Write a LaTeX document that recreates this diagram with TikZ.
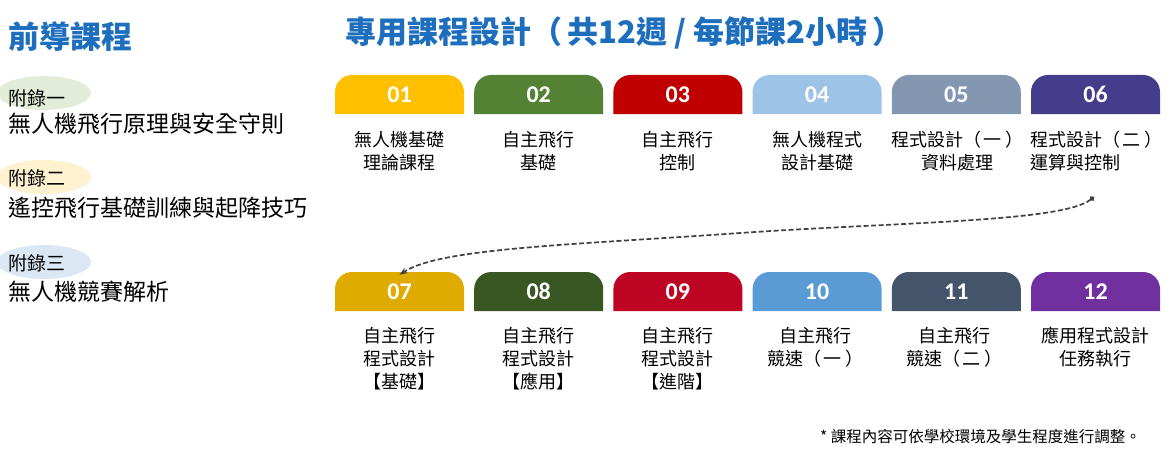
\documentclass[tikz,border=0pt]{standalone}
\usepackage{fontspec}
\newfontfamily\cjk{Noto Sans CJK TC}
\newfontfamily\numfont{Carlito}
\usetikzlibrary{arrows.meta,shapes.geometric}
\definecolor{headblue}{RGB}{30,110,190}
\definecolor{linkgray}{RGB}{64,64,64}
\definecolor{ovgreen}{RGB}{226,236,216}
\definecolor{ovyellow}{RGB}{254,242,208}
\definecolor{ovblue}{RGB}{220,231,244}
\definecolor{c01}{RGB}{255,192,0}
\definecolor{c02}{RGB}{84,130,53}
\definecolor{c03}{RGB}{192,0,0}
\definecolor{c04}{RGB}{157,195,230}
\definecolor{c05}{RGB}{132,151,176}
\definecolor{c06}{RGB}{70,60,140}
\definecolor{c07}{RGB}{223,171,0}
\definecolor{c08}{RGB}{56,87,35}
\definecolor{c09}{RGB}{190,5,35}
\definecolor{c10}{RGB}{91,155,213}
\definecolor{c11}{RGB}{68,84,106}
\definecolor{c12}{RGB}{112,48,160}
\begin{document}
\begin{tikzpicture}[x=1pt,y=-1pt]
	\tikzstyle{tab}=[minimum width=129pt, minimum height=39pt, inner sep=0pt, text=white,
		font=\numfont\bfseries\fontsize{24}{24}\selectfont,
		path picture={\fill[#1] (path picture bounding box.south west)
			-- ([yshift=-17pt]path picture bounding box.north west)
			arc[start angle=180,end angle=90,radius=17pt]
			-- ([xshift=-17pt]path picture bounding box.north east)
			arc[start angle=90,end angle=0,radius=17pt]
			-- (path picture bounding box.south east) -- cycle;}]
	\tikzstyle{lbl}=[align=center, inner sep=0pt, font=\cjk\fontsize{18}{23}\selectfont]
	\tikzstyle{oval}=[ellipse, minimum width=94pt, minimum height=34pt, inner sep=0pt]
	\tikzstyle{apx}=[anchor=west, inner sep=0pt, font=\cjk\fontsize{19}{19}\selectfont]
	\tikzstyle{apxname}=[anchor=west, inner sep=0pt, font=\cjk\fontsize{23}{23}\selectfont]
	\tikzstyle{head}=[anchor=west, inner sep=0pt, text=headblue, font=\cjk\bfseries\fontsize{31}{31}\selectfont]
	\tikzstyle{link}=[linkgray, line width=1.7pt, dash pattern=on 5pt off 2.5pt, {Circle[length=5pt]}-{Stealth[length=8pt,width=6pt]}]
	\useasboundingbox (0,0) rectangle (1173,452);
	% headings
	\node[head] (pre) at (8,37) {前導課程};
	\node[head] (main) at (345,33) {專用課程設計（\,共12週 / 每節課2小時\,）};
	% appendix courses
	\node[oval, fill=ovgreen] (e1) at (44,93) {};
	\node[oval, fill=ovyellow] (e2) at (44,177) {};
	\node[oval, fill=ovblue] (e3) at (44,262) {};
	\node[apx] (a1) at (8,98) {附錄一};
	\node[apxname] (n1) at (8,124) {無人機飛行原理與安全守則};
	\node[apx] (a2) at (8,178) {附錄二};
	\node[apxname] (n2) at (8,208) {遙控飛行基礎訓練與起降技巧};
	\node[apx] (a3) at (8,263) {附錄三};
	\node[apxname] (n3) at (8,292) {無人機競賽解析};
	% weeks 01-06
	\node[tab=c01] (w01) at (399.5,94.5) {01};
	\node[tab=c02] (w02) at (538.7,94.5) {02};
	\node[tab=c03] (w03) at (677.9,94.5) {03};
	\node[tab=c04] (w04) at (817.1,94.5) {04};
	\node[tab=c05] (w05) at (956.3,94.5) {05};
	\node[tab=c06] (w06) at (1095.5,94.5) {06};
	\node[lbl] (t01) at (399.5,151.5) {無人機基礎\\理論課程};
	\node[lbl] (t02) at (538.7,151.5) {自主飛行\\基礎};
	\node[lbl] (t03) at (677.9,151.5) {自主飛行\\控制};
	\node[lbl] (t04) at (817.1,151.5) {無人機程式\\設計基礎};
	\node[lbl] (t05) at (957,151.5) {程式設計（\,一\,）\\資料處理};
	\node[lbl, align=left] (t06) at (1096,151.5) {程式設計（\,二\,）\\運算與控制};
	% weeks 07-12
	\node[tab=c07] (w07) at (399.5,291.5) {07};
	\node[tab=c08] (w08) at (538.7,291.5) {08};
	\node[tab=c09] (w09) at (677.9,291.5) {09};
	\node[tab=c10] (w10) at (817.1,291.5) {10};
	\node[tab=c11] (w11) at (956.3,291.5) {11};
	\node[tab=c12] (w12) at (1095.5,291.5) {12};
	\node[lbl] (t07) at (399.5,359) {自主飛行\\程式設計\\【基礎】};
	\node[lbl] (t08) at (538.7,359) {自主飛行\\程式設計\\【應用】};
	\node[lbl] (t09) at (677.9,359) {自主飛行\\程式設計\\【進階】};
	\node[lbl] (t10) at (815,347.5) {自主飛行\\競速（\,一\,）};
	\node[lbl] (t11) at (954,347.5) {自主飛行\\競速（\,二\,）};
	\node[lbl] (t12) at (1095.5,347.5) {應用程式設計\\任務執行};
	% row change
	\coordinate (wrap) at (1094,197);
	\draw[link] (wrap) .. controls (1062,222) and (900,222) .. (740,233)
		.. controls (570,245) and (440,248) .. ([yshift=-3pt]w07.north);
	% note
	\node[anchor=east, inner sep=0pt, font=\cjk\fontsize{15.5}{15.5}\selectfont] (note) at (1141,437) {* 課程內容可依學校環境及學生程度進行調整。};
\end{tikzpicture}
\end{document}
